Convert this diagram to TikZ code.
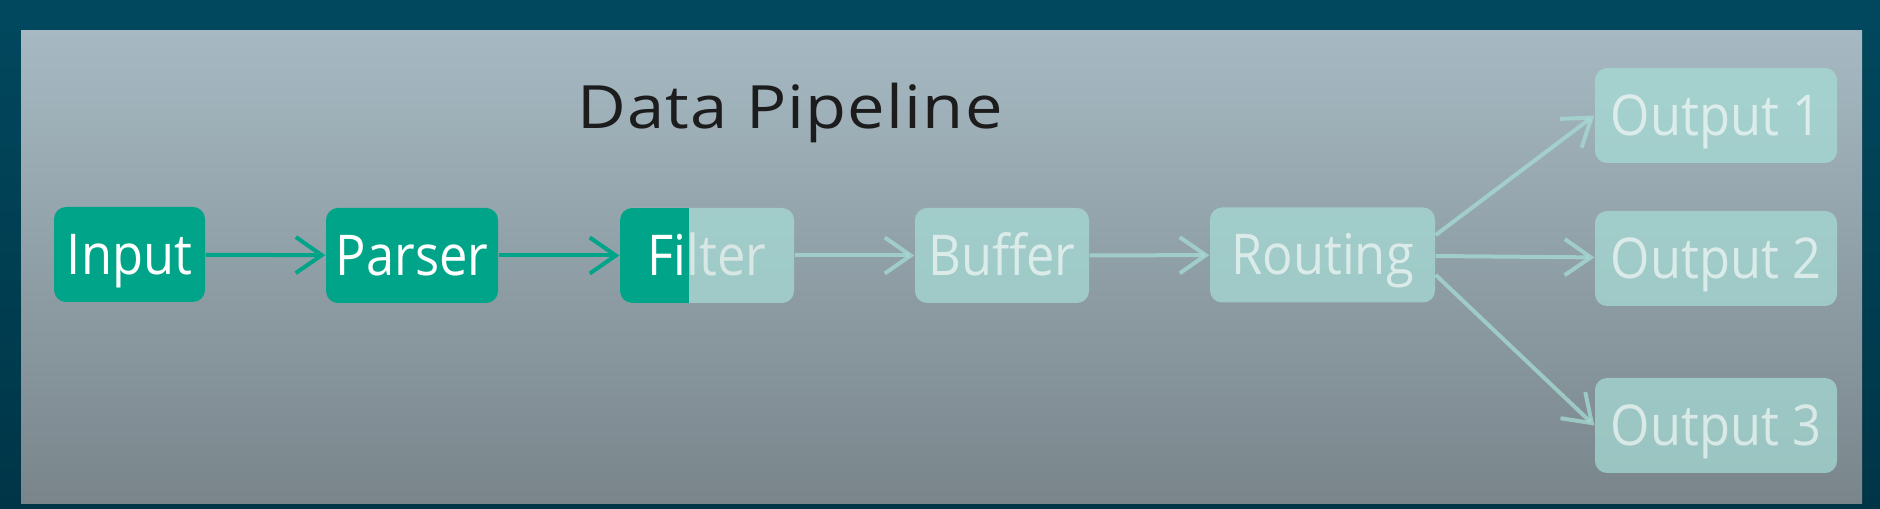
\documentclass[tikz,border=0pt]{standalone}
\usepackage{fontspec}
\setmainfont{Open Sans}
\newfontfamily\boxfont[FakeStretch=0.9]{Open Sans}
\newfontfamily\titlefont[FakeStretch=1.12,LetterSpace=2]{Open Sans}
\usetikzlibrary{arrows.meta}

\definecolor{frameTop}{HTML}{01485E}
\definecolor{frameBot}{HTML}{003547}
\definecolor{panelTop}{HTML}{A6B9C2}
\definecolor{panelBot}{HTML}{79858B}
\definecolor{stepTeal}{HTML}{00A589}
\definecolor{fadeTeal}{HTML}{A6DCD5}
\definecolor{fadeText}{HTML}{D8E6E4}
\definecolor{titleInk}{HTML}{1C1C1C}

\tikzset{
  stage/.style={rectangle, rounded corners=1.2mm, minimum height=9.5mm, inner sep=0pt,
                text height=4mm, text depth=0pt, font=\boxfont\fontsize{16}{18}\selectfont},
  donebox/.style={stage, fill=stepTeal, text=white},
  waitbox/.style={stage, fill=fadeTeal, fill opacity=0.72, text=white, text opacity=0.62},
  doneflow/.style={-{Straight Barb[length=2.6mm,width=3.6mm]}, line width=0.4mm, draw=stepTeal},
  waitflow/.style={-{Straight Barb[length=2.6mm,width=3.6mm]}, line width=0.4mm, draw=fadeTeal, draw opacity=0.75}
}

\begin{document}
\begin{tikzpicture}
    \useasboundingbox (0,0) rectangle (18.8,-5.09);
    \shade[top color=frameTop, bottom color=frameBot] (0,0) rectangle (18.8,-5.09);
    \shade[top color=panelTop, bottom color=panelBot] (0.21,-0.31) rectangle (18.62,-5.04);

    \node[font=\titlefont\fontsize{17}{20}\selectfont, text=titleInk, anchor=base] at (7.9,-1.29) (title) {Data Pipeline};

    \node[donebox, minimum width=15.1mm] at (1.295,-2.545) (input) {Input};
    \node[donebox, minimum width=17.2mm] at (4.12,-2.555) (parser) {Parser};
    \node[waitbox, minimum width=17.4mm, text opacity=1, text=fadeText,
          path picture={\fill[stepTeal, fill opacity=1, sharp corners] (path picture bounding box.south west)
                        rectangle ([xshift=6.9mm]path picture bounding box.north west);}]
          at (7.07,-2.555) (filter) {{\color{white}Fi}lter};
    \node[waitbox, minimum width=17.4mm] at (10.02,-2.555) (buffer) {Buffer};
    \node[waitbox, minimum width=22.5mm] at (13.225,-2.55) (routing) {Routing};
    \node[waitbox, minimum width=24.2mm] at (17.16,-1.155) (out1) {Output 1};
    \node[waitbox, minimum width=24.2mm] at (17.16,-2.585) (out2) {Output 2};
    \node[waitbox, minimum width=24.2mm] at (17.16,-4.255) (out3) {Output 3};

    \draw[doneflow] (input) -- (parser);
    \draw[doneflow] (parser) -- (filter);
    \draw[waitflow] (filter) -- (buffer);
    \draw[waitflow] (buffer) -- (routing);
    \draw[waitflow] (routing.10) -- (out1.west);
    \draw[waitflow] (routing) -- (out2);
    \draw[waitflow] (routing.-10) -- (out3.west);
\end{tikzpicture}
\end{document}
